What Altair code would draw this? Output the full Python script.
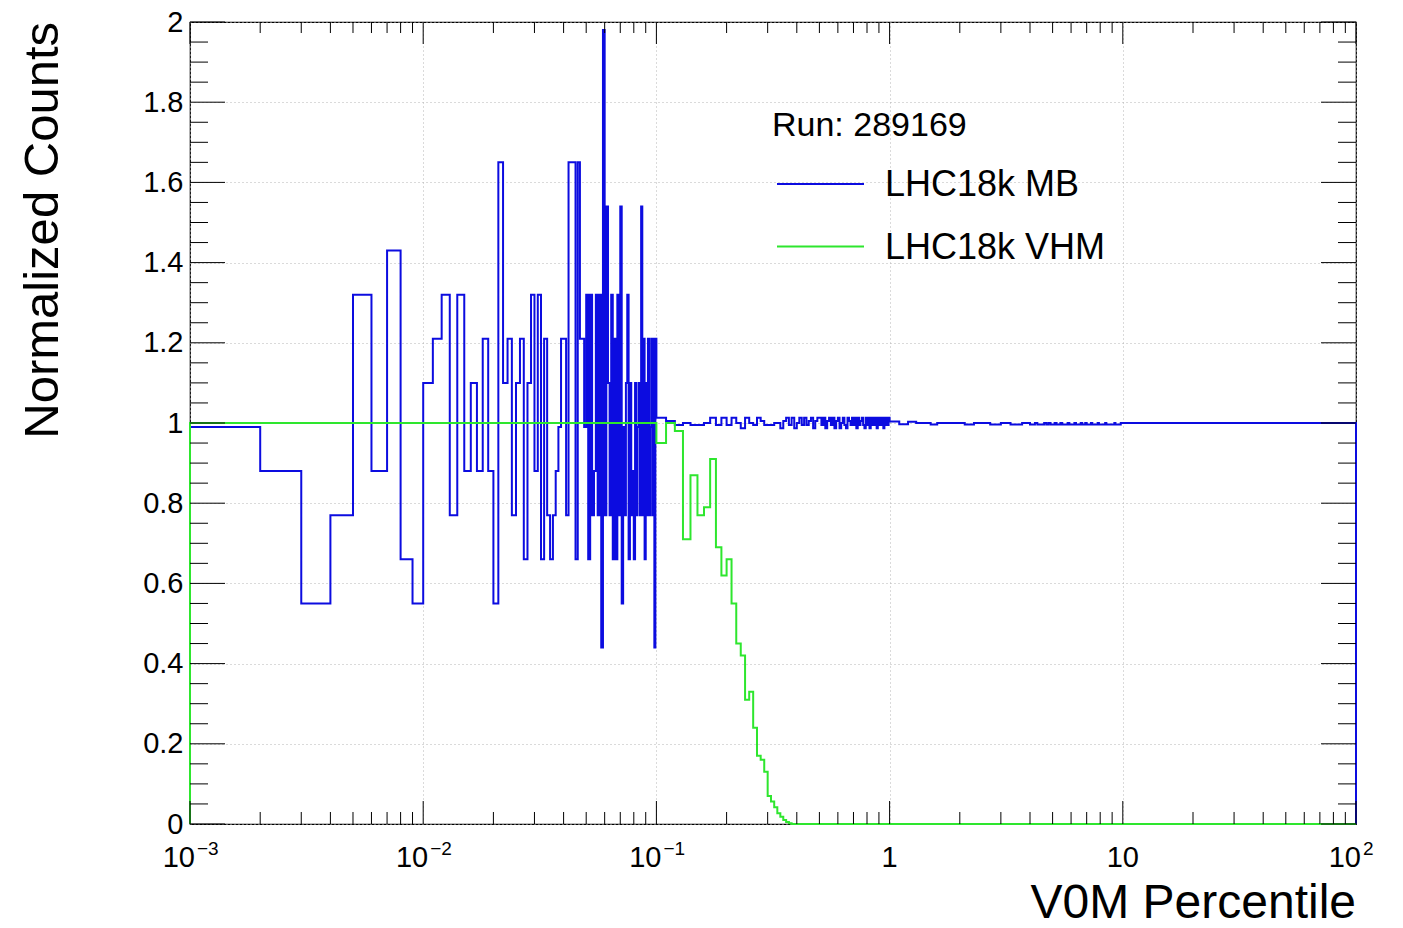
import altair as alt
import pandas as pd

# ---------------- bin lower edges (V0M percentile) ----------------
FINE_EDGES = [round(0.001 * k, 3) for k in range(1, 100)]    # 0.001 ... 0.099
MID_EDGES = [round(0.01 * k, 2) for k in range(10, 100)]     # 0.10 ... 0.99
COARSE_EDGES = [round(0.1 * k, 1) for k in range(10, 100)]   # 1.0 ... 9.9
WIDE_EDGES = [float(k) for k in range(10, 100)]              # 10 ... 99
X_MAX = 100.0

# ---------------- LHC18k MB (normalized counts) ----------------
mb_fine = [
    0.99, 0.88, 0.55, 0.77, 1.32, 0.88, 1.43, 0.66, 0.55,
    1.10, 1.21, 1.32, 0.77, 1.32, 0.88, 1.10, 0.88, 1.21, 0.88,
    0.55, 1.65, 1.10, 1.21, 0.77, 1.10, 1.21, 0.66, 1.10, 1.32,
    0.88, 1.32, 0.66, 1.21, 0.77, 0.66, 0.77, 0.88, 0.99, 1.21,
    1.21, 0.77, 1.65, 1.65, 1.65, 0.66, 1.65, 1.21, 1.21, 0.99,
    1.32, 0.66, 1.32, 0.77, 0.88, 1.32, 0.77, 1.32, 0.44, 1.98,
    0.77, 1.54, 1.10, 0.77, 1.32, 0.66, 1.21, 0.66, 1.32, 0.77,
    1.54, 0.55, 0.99, 0.77, 1.10, 1.32, 0.66, 1.10, 0.77, 0.88,
    0.66, 1.10, 0.77, 0.99, 1.10, 0.77, 1.54, 0.77, 1.21, 0.66,
    1.10, 0.77, 1.21, 0.77, 0.99, 1.21, 0.77, 1.21, 0.44, 1.21,
]
mb_mid = [
    1.013, 1.005, 0.995, 1.0, 0.995, 0.995, 1.0, 1.013, 0.995, 1.013,
    0.995, 1.013, 1.0, 0.987, 1.013, 1.0, 0.995, 1.013, 1.005, 0.995,
    0.995, 0.995, 1.0, 1.0, 0.987, 1.005, 1.013, 0.995, 1.013, 0.987,
    1.0, 1.013, 0.995, 1.013, 0.995, 1.005, 1.013, 0.987, 1.005, 1.013,
    1.013, 0.995, 1.013, 0.987, 1.005, 1.013, 0.995, 1.013, 0.987, 1.005,
    1.013, 0.987, 1.0, 1.013, 0.995, 0.987, 1.013, 1.005, 0.995, 1.013,
    0.995, 1.013, 0.987, 1.013, 0.995, 1.005, 1.013, 0.995, 0.987, 1.013,
    0.995, 1.013, 0.987, 1.013, 0.995, 1.013, 0.995, 1.013, 0.987, 1.013,
    0.995, 1.013, 0.995, 1.013, 0.987, 1.013, 0.995, 1.013, 0.995, 1.013,
]
mb_coarse = [
    1.004, 0.997, 1.003, 1.0, 1.0, 0.996, 1.0, 1.0, 1.0, 1.0,
    1.0, 0.996, 0.996, 1.0, 1.0, 1.0, 1.0, 0.996, 0.996, 0.996,
    1.0, 1.0, 1.0, 0.996, 0.996, 0.996, 0.996, 1.0, 1.0, 1.0,
    0.996, 0.996, 1.0, 0.996, 0.996, 0.996, 1.0, 0.996, 1.0, 0.996,
    0.996, 1.0, 0.996, 0.996, 1.0, 0.996, 0.996, 0.996, 1.0, 0.996,
    0.996, 0.996, 1.0, 0.996, 0.996, 0.996, 1.0, 0.996, 0.996, 1.0,
    0.996, 0.996, 0.996, 1.0, 0.996, 0.996, 0.996, 0.996, 1.0, 0.996,
    0.996, 0.996, 0.996, 0.996, 1.0, 0.996, 0.996, 0.996, 0.996, 0.996,
    0.996, 0.996, 1.0, 0.996, 0.996, 0.996, 0.996, 0.996, 1.0, 1.0,
]
mb_wide = [
    1.0, 1.0, 1.0, 1.0, 1.0, 1.0, 1.0, 1.0, 1.0, 1.0,
    1.0, 1.0, 1.0, 1.0, 1.0, 1.0, 1.0, 1.0, 1.0, 1.0,
    1.0, 1.0, 1.0, 1.0, 1.0, 1.0, 1.0, 1.0, 1.0, 1.0,
    1.0, 1.0, 1.0, 1.0, 1.0, 1.0, 1.0, 1.0, 1.0, 1.0,
    1.0, 1.0, 1.0, 1.0, 1.0, 1.0, 1.0, 1.0, 1.0, 1.0,
    1.0, 1.0, 1.0, 1.0, 1.0, 1.0, 1.0, 1.0, 1.0, 1.0,
    1.0, 1.0, 1.0, 1.0, 1.0, 1.0, 1.0, 1.0, 1.0, 1.0,
    1.0, 1.0, 1.0, 1.0, 1.0, 1.0, 1.0, 1.0, 1.0, 1.0,
    1.0, 1.0, 1.0, 1.0, 1.0, 1.0, 1.0, 1.0, 1.0, 1.0,
]

# ---------------- LHC18k VHM (normalized counts) ----------------
vhm_fine = [
    1.0, 1.0, 1.0, 1.0, 1.0, 1.0, 1.0, 1.0, 1.0,
    1.0, 1.0, 1.0, 1.0, 1.0, 1.0, 1.0, 1.0, 1.0, 1.0,
    1.0, 1.0, 1.0, 1.0, 1.0, 1.0, 1.0, 1.0, 1.0, 1.0,
    1.0, 1.0, 1.0, 1.0, 1.0, 1.0, 1.0, 1.0, 1.0, 1.0,
    1.0, 1.0, 1.0, 1.0, 1.0, 1.0, 1.0, 1.0, 1.0, 1.0,
    1.0, 1.0, 1.0, 1.0, 1.0, 1.0, 1.0, 1.0, 1.0, 1.0,
    1.0, 1.0, 1.0, 1.0, 1.0, 1.0, 1.0, 1.0, 1.0, 1.0,
    1.0, 1.0, 1.0, 1.0, 1.0, 1.0, 1.0, 1.0, 1.0, 1.0,
    1.0, 1.0, 1.0, 1.0, 1.0, 1.0, 1.0, 1.0, 1.0, 1.0,
    1.0, 1.0, 1.0, 1.0, 1.0, 1.0, 1.0, 1.0, 1.0, 1.0,
]
vhm_mid = [
    0.95, 1.0, 0.98, 0.71, 0.87, 0.77, 0.79, 0.91, 0.69, 0.62,
    0.66, 0.55, 0.45, 0.42, 0.31, 0.33, 0.24, 0.17, 0.16, 0.13,
    0.07, 0.056, 0.042, 0.027, 0.018, 0.010, 0.005, 0.002, 0.0, 0.0,
    0.0, 0.0, 0.0, 0.0, 0.0, 0.0, 0.0, 0.0, 0.0, 0.0,
    0.0, 0.0, 0.0, 0.0, 0.0, 0.0, 0.0, 0.0, 0.0, 0.0,
    0.0, 0.0, 0.0, 0.0, 0.0, 0.0, 0.0, 0.0, 0.0, 0.0,
    0.0, 0.0, 0.0, 0.0, 0.0, 0.0, 0.0, 0.0, 0.0, 0.0,
    0.0, 0.0, 0.0, 0.0, 0.0, 0.0, 0.0, 0.0, 0.0, 0.0,
    0.0, 0.0, 0.0, 0.0, 0.0, 0.0, 0.0, 0.0, 0.0, 0.0,
]
vhm_coarse = [0.0 for _ in COARSE_EDGES]
vhm_wide = [0.0 for _ in WIDE_EDGES]

# ---------------- axis / label texts ----------------
Y_TICKS = [0, 0.2, 0.4, 0.6, 0.8, 1.0, 1.2, 1.4, 1.6, 1.8, 2.0]
Y_MINOR = [round(0.05 * k, 2) for k in range(41) if k % 4 != 0]
X_DECADES = [0.001, 0.01, 0.1, 1, 10, 100]
X_MINOR = [round(m * d, 4) for d in [0.001, 0.01, 0.1, 1, 10] for m in range(2, 10)]
X_EXP_LABELS = [(0.001, "10", "\u22123"), (0.01, "10", "\u22122"), (0.1, "10", "\u22121"), (100, "10", "2")]
X_PLAIN_LABELS = [(1, "1"), (10, "10")]

RUN_TEXT = "Run: 289169"
SERIES = ["LHC18k MB", "LHC18k VHM"]
COLORS = ["#0c0ce0", "#2ee62e"]
X_TITLE = "V0M Percentile"
Y_TITLE = "Normalized Counts"

W, H = 1166, 802
FONT = "Liberation Sans"


def step_rows(name, edges, values):
    rows = [(edges[0], 0.0)] + list(zip(edges, values)) + [(X_MAX, values[-1]), (X_MAX, 0.0)]
    return [{"series": name, "x": x, "y": y, "i": i} for i, (x, y) in enumerate(rows)]


edges_all = FINE_EDGES + MID_EDGES + COARSE_EDGES + WIDE_EDGES
mb_all = mb_fine + mb_mid + mb_coarse + mb_wide
vhm_all = vhm_fine + vhm_mid + vhm_coarse + vhm_wide

xscale = alt.Scale(type="log", domain=[0.001, 100])
yscale = alt.Scale(domain=[0, 2])

xaxis = alt.Axis(values=X_DECADES, grid=True, gridDash=[1, 3], gridColor="#b4b4b4",
                 ticks=False, labels=False, domain=False, title=None)
yaxis = alt.Axis(values=Y_TICKS, grid=True, gridDash=[1, 3], gridColor="#b4b4b4",
                 ticks=False, domain=False, labelFontSize=29, labelFont=FONT,
                 labelColor="black", labelPadding=7, format="~g", title=None)


def hist_layer(name, values, color):
    df = pd.DataFrame(step_rows(name, edges_all, values))
    return alt.Chart(df).mark_line(interpolate="step-after", color=color, strokeWidth=2).encode(
        x=alt.X("x:Q", scale=xscale, axis=xaxis),
        y=alt.Y("y:Q", scale=yscale, axis=yaxis),
        order="i:Q",
    )


mb_layer = hist_layer(SERIES[0], mb_all, COLORS[0])
vhm_layer = hist_layer(SERIES[1], vhm_all, COLORS[1])

# tick marks (ROOT style, inward, on all four sides)
xmaj = pd.DataFrame({"v": X_DECADES})
xmin = pd.DataFrame({"v": X_MINOR})
ymaj = pd.DataFrame({"v": Y_TICKS})
ymin = pd.DataFrame({"v": Y_MINOR})

tick_style = dict(color="black", strokeWidth=1)
ticks = [
    alt.Chart(xmaj).mark_rule(**tick_style).encode(x=alt.X("v:Q", scale=xscale), y=alt.value(H), y2=alt.value(H - 23)),
    alt.Chart(xmin).mark_rule(**tick_style).encode(x=alt.X("v:Q", scale=xscale), y=alt.value(H), y2=alt.value(H - 12)),
    alt.Chart(xmaj).mark_rule(**tick_style).encode(x=alt.X("v:Q", scale=xscale), y=alt.value(0), y2=alt.value(22)),
    alt.Chart(xmin).mark_rule(**tick_style).encode(x=alt.X("v:Q", scale=xscale), y=alt.value(0), y2=alt.value(11)),
    alt.Chart(ymaj).mark_rule(**tick_style).encode(y=alt.Y("v:Q", scale=yscale), x=alt.value(0), x2=alt.value(35)),
    alt.Chart(ymin).mark_rule(**tick_style).encode(y=alt.Y("v:Q", scale=yscale), x=alt.value(0), x2=alt.value(18)),
    alt.Chart(ymaj).mark_rule(**tick_style).encode(y=alt.Y("v:Q", scale=yscale), x=alt.value(W), x2=alt.value(W - 35)),
    alt.Chart(ymin).mark_rule(**tick_style).encode(y=alt.Y("v:Q", scale=yscale), x=alt.value(W), x2=alt.value(W - 18)),
]

# x tick labels with superscript exponents
exp_df = pd.DataFrame(X_EXP_LABELS, columns=["v", "base", "exp"])
plain_df = pd.DataFrame(X_PLAIN_LABELS, columns=["v", "t"])
xlab_base = alt.Chart(exp_df).mark_text(font=FONT, fontSize=29, align="right", baseline="alphabetic",
                                        dx=5, color="black").encode(
    x=alt.X("v:Q", scale=xscale), y=alt.value(H + 43), text="base:N")
xlab_exp = alt.Chart(exp_df).mark_text(font=FONT, fontSize=19, align="left", baseline="alphabetic",
                                       dx=7, color="black").encode(
    x=alt.X("v:Q", scale=xscale), y=alt.value(H + 31), text="exp:N")
xlab_plain = alt.Chart(plain_df).mark_text(font=FONT, fontSize=29, align="center", baseline="alphabetic",
                                           color="black").encode(
    x=alt.X("v:Q", scale=xscale), y=alt.value(H + 43), text="t:N")

# titles
titles_df = pd.DataFrame({"t": [X_TITLE]})
x_title = alt.Chart(titles_df).mark_text(font=FONT, fontSize=48, align="right", baseline="alphabetic",
                                         color="black").encode(
    x=alt.value(W), y=alt.value(H + 94), text="t:N")
ytitle_df = pd.DataFrame({"t": [Y_TITLE]})
y_title = alt.Chart(ytitle_df).mark_text(font=FONT, fontSize=49, align="right", baseline="alphabetic",
                                         angle=270, color="black").encode(
    x=alt.value(-132), y=alt.value(0), text="t:N")

# legend
run_df = pd.DataFrame({"t": [RUN_TEXT]})
run_text = alt.Chart(run_df).mark_text(font=FONT, fontSize=34, align="left", baseline="alphabetic",
                                       color="black").encode(
    x=alt.value(582), y=alt.value(114), text="t:N")
leg_layers = []
for k, (name, col) in enumerate(zip(SERIES, COLORS)):
    ldf = pd.DataFrame({"t": [name]})
    ly = 162 + 62.5 * k
    leg_layers.append(alt.Chart(ldf).mark_rule(color=col, strokeWidth=2).encode(
        x=alt.value(587), x2=alt.value(674), y=alt.value(ly)))
    leg_layers.append(alt.Chart(ldf).mark_text(font=FONT, fontSize=36, align="left", baseline="middle",
                                              color="black").encode(
        x=alt.value(695), y=alt.value(ly + 1), text="t:N"))

chart = alt.layer(
    mb_layer, vhm_layer, *ticks, xlab_base, xlab_exp, xlab_plain, x_title, y_title, run_text, *leg_layers
).resolve_scale(x="shared", y="shared").properties(
    width=W, height=H,
    autosize=alt.AutoSizeParams(type="none"),
    padding={"left": 190, "top": 22, "right": 47, "bottom": 104},
    background="white",
).configure_view(stroke="black", strokeWidth=1.2)

chart.save("out.html", embed_options={"renderer": "svg", "actions": False})
